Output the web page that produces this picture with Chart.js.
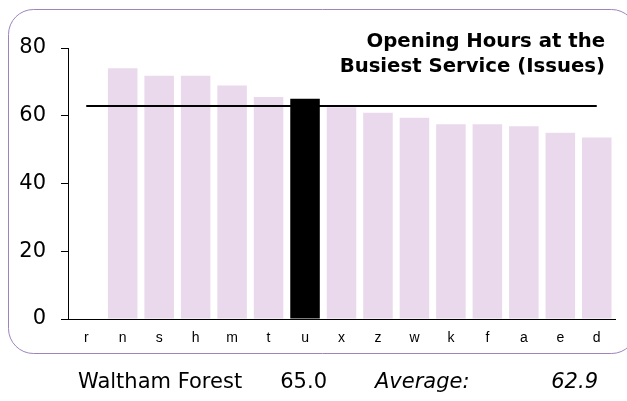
<!DOCTYPE html>
<html><head><meta charset="utf-8">
<script src="https://cdn.jsdelivr.net/npm/chart.js@4/dist/chart.umd.min.js"></script>
<style>html,body{margin:0;padding:0;background:#fff;overflow:hidden}#wrap{width:627px;height:401px;position:relative}</style>
</head><body><div id="wrap"><canvas id="c" width="627" height="401"></canvas></div>
<script>
const categories = ['r','n','s','h','m','t','u','x','z','w','k','f','a','e','d'];
const values = [null, 74.0, 71.8, 71.8, 68.9, 65.5, 65.0, 62.5, 60.9, 59.4, 57.5, 57.5, 56.9, 55.0, 53.6];
const highlight = 'u';
const average = 62.9;
const yTicks = [0, 20, 40, 60, 80];
const titleLines = ['Opening Hours at the', 'Busiest Service (Issues)'];
const footerName = 'Waltham Forest';
const footerValue = '65.0';
const footerAvgLabel = 'Average:';
const footerAvgValue = '62.9';

const pink = '#ead9ec';
const frame = '#9d84bd';

const otherVals = values.map((v, i) => categories[i] === highlight ? null : v);
const hiVals = values.map((v, i) => categories[i] === highlight ? v : null);
const avgVals = categories.map(() => average);

const decor = {
  id: 'decor',
  beforeDraw(chart) {
    const ctx = chart.ctx;
    ctx.save();
    ctx.strokeStyle = frame;
    ctx.lineWidth = 1;
    ctx.beginPath();
    ctx.roundRect(8.5, 9.5, 628, 344, 25);
    ctx.stroke();
    ctx.restore();
  },
  afterDraw(chart) {
    const ctx = chart.ctx;
    ctx.save();
    ctx.fillStyle = '#000';
    ctx.font = 'bold 19.7px "DejaVu Sans"';
    ctx.textAlign = 'right';
    ctx.textBaseline = 'alphabetic';
    ctx.fillText(titleLines[0], 605, 47);
    ctx.fillText(titleLines[1], 605, 72);
    ctx.font = '21px "DejaVu Sans"';
    ctx.textAlign = 'left';
    ctx.fillText(footerName, 78, 388);
    ctx.textAlign = 'right';
    ctx.fillText(footerValue, 327, 388);
    ctx.font = 'italic 21px "DejaVu Sans"';
    ctx.textAlign = 'left';
    ctx.fillText(footerAvgLabel, 375, 388);
    ctx.textAlign = 'right';
    ctx.fillText(footerAvgValue, 598, 388);
    ctx.restore();
  }
};

new Chart(document.getElementById('c'), {
  data: {
    labels: categories,
    datasets: [
      { type: 'bar', data: otherVals, backgroundColor: pink, grouped: false, order: 3,
        barPercentage: 0.81, categoryPercentage: 1.0 },
      { type: 'line', data: avgVals, borderColor: '#000', borderWidth: 2, pointRadius: 0, fill: false, order: 2 },
      { type: 'bar', data: hiVals, backgroundColor: '#000', grouped: false, order: 1,
        barPercentage: 0.81, categoryPercentage: 1.0 }
    ]
  },
  options: {
    responsive: false,
    animation: false,
    devicePixelRatio: 1,
    layout: { padding: { left: 19, right: 12, top: 48, bottom: 52 } },
    plugins: { legend: { display: false }, tooltip: { enabled: false } },
    scales: {
      x: {
        offset: true,
        grid: { display: false, drawTicks: false },
        border: { display: true, color: '#000', width: 1 },
        ticks: { font: { family: '"Liberation Sans"', size: 14 }, color: '#000', padding: 11, maxRotation: 0, autoSkip: false },
        afterFit(s) { s.height = 30; }
      },
      y: {
        min: 0, max: 80,
        afterBuildTicks(s) { s.ticks = yTicks.map(v => ({ value: v })); },
        grid: { drawOnChartArea: false, drawTicks: true, tickLength: 7, color: '#000', lineWidth: 1 },
        border: { display: true, color: '#000', width: 1 },
        ticks: { font: { family: '"DejaVu Sans"', size: 21 }, color: '#000', padding: 15 },
        afterFit(s) { s.width = 49; }
      }
    }
  },
  plugins: [decor]
});
</script></body></html>
